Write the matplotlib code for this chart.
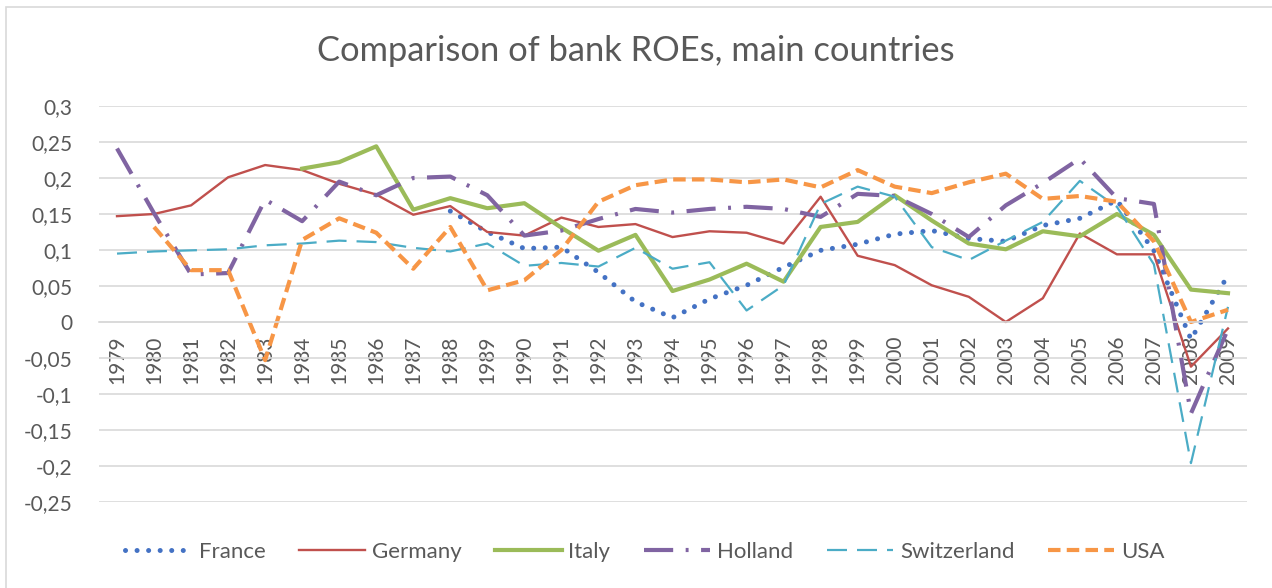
import numpy as np
import matplotlib
matplotlib.use("Agg")
import matplotlib.pyplot as plt
from matplotlib.patches import Rectangle

plt.rcParams['font.family'] = ['Lato', 'DejaVu Sans']

years = list(range(1979, 2010))
nan = np.nan

france = [nan] * 9 + [0.154, 0.125, 0.102, 0.104, 0.069, 0.028, 0.006, 0.032, 0.051,
                      0.076, 0.0995, 0.108, 0.122, 0.127, 0.116, 0.112, 0.134, 0.144,
                      0.169, 0.099, -0.024, 0.065]
germany = [0.147, 0.150, 0.162, 0.201, 0.218, 0.211, 0.192, 0.177, 0.149, 0.161,
           0.125, 0.120, 0.145, 0.132, 0.136, 0.118, 0.126, 0.124, 0.109, 0.174,
           0.092, 0.079, 0.051, 0.035, 0.000, 0.033, 0.123, 0.094, 0.094, -0.062,
           -0.009]
italy = [nan] * 5 + [0.213, 0.222, 0.244, 0.156, 0.172, 0.158, 0.165, 0.131, 0.099,
                     0.121, 0.043, 0.059, 0.081, 0.056, 0.132, 0.139, 0.176, 0.141,
                     0.109, 0.101, 0.126, 0.119, 0.150, 0.121, 0.045, 0.040]
holland = [0.241, 0.151, 0.066, 0.068, 0.170, 0.140, 0.195, 0.176, 0.200, 0.202,
           0.176, 0.120, 0.127, 0.143, 0.157, 0.152, 0.157, 0.160, 0.157, 0.146,
           0.178, 0.175, 0.150, 0.118, 0.162, 0.193, 0.227, 0.172, 0.164, -0.127,
           -0.010]
switzerland = [0.095, 0.098, 0.0995, 0.101, 0.1065, 0.109, 0.113, 0.111, 0.103, 0.098,
               0.109, 0.078, 0.082, 0.077, 0.103, 0.074, 0.083, 0.016, 0.051, 0.164,
               0.188, 0.174, 0.104, 0.086, 0.113, 0.139, 0.196, 0.160, 0.080, -0.196,
               0.021]
usa = [nan, 0.132, 0.072, 0.072, -0.053, 0.114, 0.144, 0.124, 0.074, 0.132,
       0.044, 0.058, 0.100, 0.167, 0.190, 0.198, 0.198, 0.194, 0.198, 0.187,
       0.211, 0.188, 0.179, 0.194, 0.206, 0.171, 0.175, 0.167, 0.112, 0.000,
       0.017]

yticks = [0.3, 0.25, 0.2, 0.15, 0.1, 0.05, 0, -0.05, -0.1, -0.15, -0.2, -0.25]

grey = '#595959'
fig = plt.figure(figsize=(12.72, 5.88), dpi=100)
ax = fig.add_axes([98.5 / 1272, 86 / 588, 1148 / 1272, 396 / 588])

x = np.arange(len(years))
ax.plot(x, france, color='#4472C4', lw=3.6, linestyle=(0, (0.01, 2.3)),
        dash_capstyle='round', label='France')
ax.plot(x, germany, color='#C0504D', lw=1.7, label='Germany')
ax.plot(x, italy, color='#9BBB59', lw=3.0, label='Italy')
ax.plot(x, holland, color='#8064A2', lw=3.0, linestyle=(0, (7, 3, 0.7, 3)),
        dash_capstyle='butt', label='Holland')
ax.plot(x, switzerland, color='#4BACC6', lw=1.6, linestyle=(0, (9, 4.5)),
        label='Switzerland')
ax.plot(x, usa, color='#F79646', lw=3.0, linestyle=(0, (3, 1.5)),
        dash_capstyle='butt', label='USA')

# x axis sits on the zero line, like Excel
for s in ['top', 'right', 'left']:
    ax.spines[s].set_visible(False)
ax.spines['bottom'].set_position(('data', 0))
ax.spines['bottom'].set_color('#d9d9d9')
ax.spines['bottom'].set_linewidth(1.2)

ax.set_xlim(-0.5, len(years) - 0.5)
ax.set_ylim(-0.25, 0.3)
ax.set_yticks(yticks)
ax.set_yticklabels([('%g' % v).replace('.', ',') for v in yticks])
ax.set_xticks(x)
ax.set_xticklabels([str(y) for y in years])
ax.yaxis.grid(True, color='#d9d9d9', lw=1.2)
ax.set_axisbelow(True)
ax.tick_params(axis='y', length=0, pad=19, labelsize=15, labelcolor=grey)
ax.tick_params(axis='x', length=0, pad=10, labelsize=15, labelcolor=grey,
               labelrotation=90)

fig.text(0.5, 1 - 51 / 588, 'Comparison of bank ROEs, main countries',
         ha='center', va='center', fontsize=24.8, color=grey)

fig.legend(loc='center', bbox_to_anchor=(0.507, 36 / 588), ncol=6, frameon=False,
           fontsize=16, labelcolor=grey, handlelength=3.0, handletextpad=0.3,
           columnspacing=1.5)

fig.patches.append(Rectangle((6 / 1272, -0.05), 1.2, 1.05 - 7 / 588,
                             transform=fig.transFigure, fill=False,
                             edgecolor='#d9d9d9', lw=1.2))

fig.savefig('out.png', dpi=100)
